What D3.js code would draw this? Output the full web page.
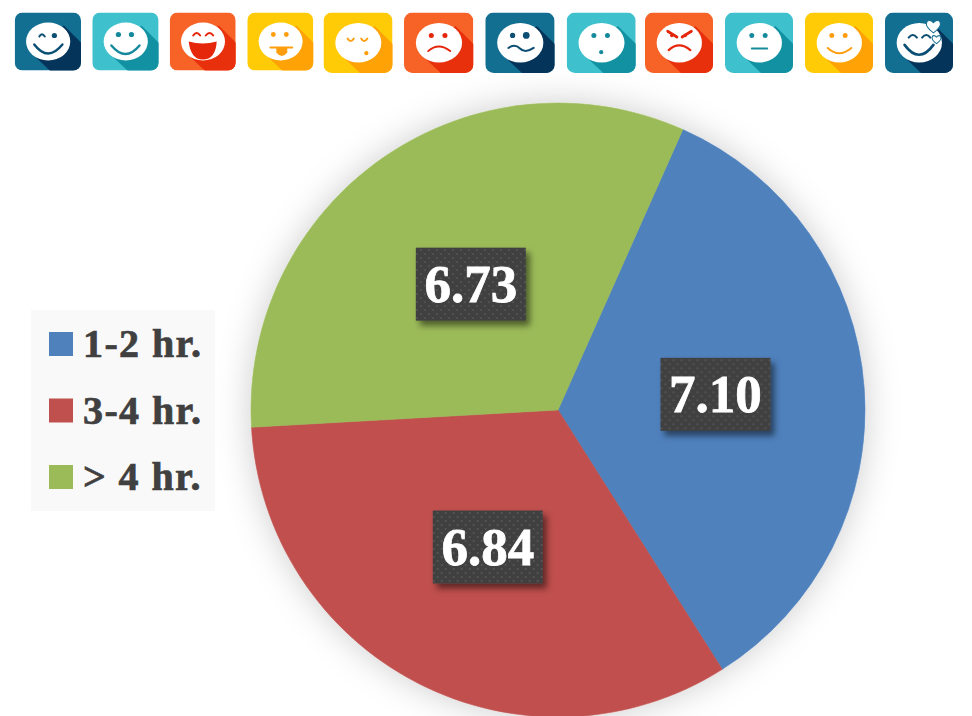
<!DOCTYPE html>
<html>
<head>
<meta charset="utf-8">
<script src="https://cdn.jsdelivr.net/npm/d3@7"></script>
<style>
  html, body { margin: 0; padding: 0; background: #fff; }
  svg { display: block; }
  text { font-family: "Liberation Serif", serif; font-weight: bold; }
</style>
</head>
<body>
<div id="chart"></div>
<script>
const categories = ["1-2 hr.", "3-4 hr.", "> 4 hr."];
const values = [7.10, 6.84, 6.73];
const sliceColors = ["#4f81bd", "#c0504d", "#9bbb59"];

// emoji strip across the top, left to right
const iconFaces = ["wink", "smile", "laugh", "tongue", "sleepy", "sad", "wavy", "hush", "angry", "neutral", "grin", "love"];
const iconThemes = ["navy", "teal", "orange", "yellow", "yellow", "orange", "navy", "teal", "orange", "teal", "yellow", "navy"];
const iconLefts = [14.7, 92.3, 169.7, 247.3, 323.5, 404, 485.3, 566.7, 645, 725, 805, 885];
const iconWidths = [66.3, 66.3, 66, 66, 69, 69.3, 69.3, 69, 68, 68, 68, 68];

const themes = {
  navy: { bg: "#126f92", shade: "#04345a", ink: "#0c4f74" },
  teal: { bg: "#3ec1cd", shade: "#1191a1", ink: "#16899c" },
  orange: { bg: "#f76227", shade: "#e8300d", ink: "#e5260b" },
  yellow: { bg: "#ffcb06", shade: "#ffa205", ink: "#ff9e0c" }
};

const width = 972, height = 716;
const cx = 558, cy = 410, radius = 307;
const startAngle = 24 * Math.PI / 180;
// the boxes don't sit exactly on the slice centroids
const labelNudge = [[4.4, -4.5], [0, 0.5], [0, 0.5]];

const svg = d3.select("#chart").append("svg")
  .attr("width", width)
  .attr("height", height)
  .attr("viewBox", `0 0 ${width} ${height}`);

const defs = svg.append("defs");

// soft glow round the pie
const pieGlow = defs.append("filter").attr("id", "pieGlow")
  .attr("x", "-20%").attr("y", "-20%").attr("width", "140%").attr("height", "140%");
pieGlow.append("feDropShadow")
  .attr("dx", 0).attr("dy", 0).attr("stdDeviation", 17)
  .attr("flood-color", "#000").attr("flood-opacity", 0.2);

const boxShadow = defs.append("filter").attr("id", "boxShadow")
  .attr("x", "-20%").attr("y", "-20%").attr("width", "140%").attr("height", "140%");
boxShadow.append("feDropShadow")
  .attr("dx", 4).attr("dy", 5).attr("stdDeviation", 3)
  .attr("flood-color", "#000").attr("flood-opacity", 0.5);

// dotted texture of the value boxes
const dots = defs.append("pattern").attr("id", "dots")
  .attr("patternUnits", "userSpaceOnUse")
  .attr("width", 8).attr("height", 8);
dots.append("rect").attr("width", 8).attr("height", 8).attr("fill", "#3f3f3f");
dots.selectAll("circle")
  .data([[2, 2], [6, 6]])
  .join("circle")
  .attr("cx", d => d[0]).attr("cy", d => d[1]).attr("r", 1.1)
  .attr("fill", "#565656");

defs.append("clipPath").attr("id", "iconClip")
  .append("rect").attr("width", 66).attr("height", 58).attr("rx", 8);

// Pie
const pie = d3.pie().sort(null)
  .startAngle(startAngle)
  .endAngle(startAngle + 2 * Math.PI);
const arc = d3.arc().innerRadius(0).outerRadius(radius);
const slices = pie(values);

const pieG = svg.append("g").attr("transform", `translate(${cx},${cy})`);

// thin stroke in the slice colour closes the seams between slices
pieG.append("g").attr("filter", "url(#pieGlow)")
  .selectAll("path")
  .data(slices)
  .join("path")
  .attr("d", arc)
  .attr("fill", (d, i) => sliceColors[i])
  .attr("stroke", (d, i) => sliceColors[i])
  .attr("stroke-width", 0.6);

// Value labels
const boxW = 110, boxH = 73;
const labels = pieG.selectAll("g.value")
  .data(slices)
  .join("g")
  .attr("class", "value")
  .attr("transform", (d, i) => {
    const [x, y] = arc.centroid(d);
    return `translate(${x + labelNudge[i][0]},${y + labelNudge[i][1]})`;
  });

labels.append("rect")
  .attr("x", -boxW / 2).attr("y", -boxH / 2)
  .attr("width", boxW).attr("height", boxH)
  .attr("fill", "url(#dots)")
  .attr("filter", "url(#boxShadow)");

labels.append("text")
  .attr("text-anchor", "middle")
  .attr("y", 18)
  .attr("font-size", 53)
  .attr("fill", "#fff")
  .attr("stroke", "#fff")
  .attr("stroke-width", 0.8)
  .text(d => d.value.toFixed(2));

// Legend
const legendY = d3.scalePoint().domain(categories).range([344, 477]);
const legend = svg.append("g");

legend.append("rect")
  .attr("x", 31).attr("y", 310)
  .attr("width", 184).attr("height", 201)
  .attr("fill", "#f9f9f9");

const legendRows = legend.selectAll("g.row")
  .data(categories)
  .join("g")
  .attr("class", "row")
  .attr("transform", d => `translate(49,${legendY(d)})`);

legendRows.append("rect")
  .attr("y", -12)
  .attr("width", 24).attr("height", 24)
  .attr("fill", (d, i) => sliceColors[i]);

legendRows.append("text")
  .attr("x", 34).attr("y", 13)
  .attr("font-size", 40)
  .attr("letter-spacing", 1.4)
  .attr("fill", "#404040")
  .attr("stroke", "#404040")
  .attr("stroke-width", 0.7)
  .text(d => d);

// Emoji icons, drawn in a 66x58 box and scaled to fit
const heart = (x, y, s) => `M${x},${y + s}C${x - 1.6 * s},${y - 0.1 * s} ${x - 0.7 * s},${y - 1.1 * s} ${x},${y - 0.3 * s}C${x + 0.7 * s},${y - 1.1 * s} ${x + 1.6 * s},${y - 0.1 * s} ${x},${y + s}Z`;

const dotEyes = (g, ink, r1 = 2.4, r2 = 2.4) => {
  g.append("circle").attr("cx", 26).attr("cy", 22).attr("r", r1).attr("fill", ink);
  g.append("circle").attr("cx", 39).attr("cy", 22).attr("r", r2).attr("fill", ink);
};
const line = (g, d, ink, w = 2) => g.append("path").attr("d", d)
  .attr("fill", "none").attr("stroke", ink).attr("stroke-width", w).attr("stroke-linecap", "round");

const faceDrawers = {
  wink(g, ink) {
    line(g, "M24.5,24Q27,19.5 30,24", ink, 2);
    g.append("circle").attr("cx", 39.5).attr("cy", 23).attr("r", 2.6).attr("fill", ink);
    line(g, "M19.5,32Q33,50 47.5,32", ink, 2.4);
  },
  smile(g, ink) {
    dotEyes(g, ink, 2.6, 2.6);
    line(g, "M19,33Q33,50 47,33", ink, 2.4);
  },
  laugh(g, ink) {
    line(g, "M23.5,23Q27,18 30.5,23", ink, 2);
    line(g, "M36,23Q40,18 43.5,23", ink, 2);
    g.append("path").attr("d", "M19,29Q33,33 47,29Q46,47 33,47Q21,47 19,29Z").attr("fill", ink);
  },
  tongue(g, ink) {
    dotEyes(g, ink);
    line(g, "M23,35H45", ink, 1.8);
    g.append("path").attr("d", "M29,35H40V40Q34.5,47 29,40Z").attr("fill", ink);
  },
  sleepy(g, ink) {
    line(g, "M23,25Q26,30 29,25", ink, 1.8);
    line(g, "M36,25Q39,30 42,25", ink, 1.8);
    g.append("circle").attr("cx", 41).attr("cy", 39).attr("r", 2).attr("fill", ink);
  },
  sad(g, ink) {
    dotEyes(g, ink);
    line(g, "M23,37Q33,28 44,37", ink, 1.8);
  },
  wavy(g, ink) {
    dotEyes(g, ink, 2.5, 3.2);
    line(g, "M22,34Q28,29.5 33,34.5T46,34", ink, 2);
  },
  hush(g, ink) {
    dotEyes(g, ink);
    g.append("circle").attr("cx", 33).attr("cy", 38).attr("r", 2).attr("fill", ink);
  },
  angry(g, ink) {
    line(g, "M22,18L31,23.5", ink, 2.6);
    line(g, "M45,18L36,23.5", ink, 2.6);
    dotEyes(g, ink, 1.7, 1.7);
    line(g, "M23,36Q33,27 44,36", ink, 2.2);
  },
  neutral(g, ink) {
    dotEyes(g, ink);
    line(g, "M26,34.5H41", ink, 1.8);
  },
  grin(g, ink) {
    dotEyes(g, ink);
    line(g, "M22,34Q33,44 45,34", ink, 1.8);
  },
  love(g, ink) {
    line(g, "M23,24Q27,19 31,24", ink, 2);
    line(g, "M36,24Q40,19 44,24", ink, 2);
    line(g, "M19,31Q33,50 47,31", ink, 2.6);
    g.append("path").attr("d", heart(47, 12, 7.5)).attr("fill", "#fff").attr("stroke", themes.navy.bg).attr("stroke-width", 1);
    g.append("path").attr("d", heart(50, 25, 4.8)).attr("fill", "#fff").attr("stroke", themes.navy.bg).attr("stroke-width", 1);
  }
};

const icons = svg.append("g").selectAll("g.icon")
  .data(iconFaces)
  .join("g")
  .attr("class", "icon")
  .attr("transform", (d, i) => {
    const k = iconWidths[i] / 66;
    return `translate(${iconLefts[i]},12.5) scale(${k},${k > 1.02 ? 60.5 / 58 : 1})`;
  });

icons.each(function(face, i) {
  const g = d3.select(this);
  const theme = themes[iconThemes[i]];
  const inner = g.append("g").attr("clip-path", "url(#iconClip)");
  inner.append("rect").attr("width", 66).attr("height", 58).attr("fill", theme.bg);
  // long shadow falling to the lower right
  inner.append("path").attr("d", "M49,13L67,31V59H36L18,42Z").attr("fill", theme.shade);
  inner.append("ellipse")
    .attr("cx", 33.3).attr("cy", 29).attr("rx", 22).attr("ry", 19)
    .attr("fill", "#fff");
  faceDrawers[face](g, theme.ink);
});
</script>
</body>
</html>
